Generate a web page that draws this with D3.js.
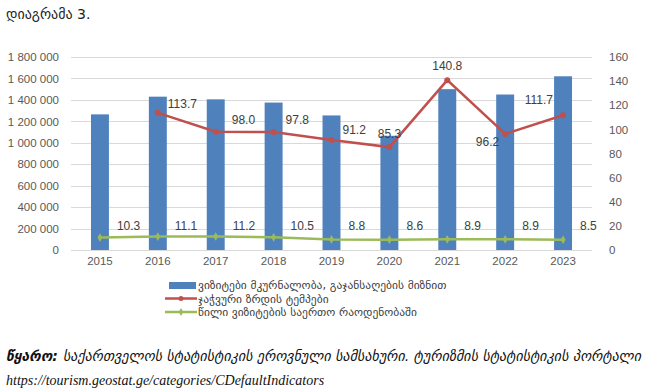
<!DOCTYPE html>
<html><head><meta charset="utf-8">
<script src="https://cdn.jsdelivr.net/npm/d3@7"></script>
<style>
body{margin:0;background:#fff;}
svg text{font-family:"DejaVu Sans","Noto Sans",sans-serif;}
svg text.num{font-family:"Liberation Sans",Arial,sans-serif;}
</style></head>
<body><svg id="c" width="645" height="392"></svg>
<script>
const years = ["2015","2016","2017","2018","2019","2020","2021","2022","2023"];
const visits = [1265000,1430000,1405000,1375000,1255000,1065000,1500000,1450000,1620000];
const growth = [null,113.7,98.0,97.8,91.2,85.3,140.8,96.2,111.7];
const share = [10.3,11.1,11.2,10.5,8.8,8.6,8.9,8.9,8.5];
const leftTicks = [0,200000,400000,600000,800000,1000000,1200000,1400000,1600000,1800000];
const rightTicks = [0,20,40,60,80,100,120,140,160];
const legendLabels = ["ვიზიტები  მკურნალობა, გაჯანსაღების მიზნით","ჯაჭვური ზრდის ტემპები","წილი ვიზიტების საერთო რაოდენობაში"];
const title = "დიაგრამა 3.";
const srcLabel = "წყარო:";
const srcText = "საქართველოს სტატისტიკის ეროვნული სამსახური. ტურიზმის სტატისტიკის პორტალი";
const srcUrl = "https://tourism.geostat.ge/categories/CDefaultIndicators";

// growth label offsets [dx, dy, anchor]
const gOff = [null,[10,-9,"start"],[16,-12,"start"],[12,-12,"start"],[11,-10,"start"],[0,-13,"middle"],[0,-14,"middle"],[-6,8,"end"],[-10,-15,"end"]];

const svg = d3.select("#c");
const L=71, R=592, T=57, B=250;
const x = d3.scaleBand().domain(years).range([L,R]).paddingInner(0.69).paddingOuter(0.345);
const yL = d3.scaleLinear().domain([0,1800000]).range([B,T]);
const yR = d3.scaleLinear().domain([0,160]).range([B,T]);
const cx = d => x(d)+x.bandwidth()/2;
const gray="#595959";

svg.append("text").attr("x",6).attr("y",19).attr("font-size",14).attr("fill","#222").text(title);

// grid
svg.append("g").selectAll("line").data(leftTicks).join("line")
  .attr("x1",L).attr("x2",R).attr("y1",d=>Math.round(yL(d))+0.5).attr("y2",d=>Math.round(yL(d))+0.5)
  .attr("stroke","#d9d9d9").attr("stroke-width",1);

// left axis
const axL = d3.axisLeft(yL).tickValues(leftTicks).tickSize(0).tickPadding(0)
  .tickFormat(d=>d3.format(",")(d).replace(/,/g," "));
const gL = svg.append("g").attr("transform",`translate(59,0)`).call(axL);
gL.select(".domain").remove();
gL.selectAll("text").attr("class","num").attr("font-size",11.5).attr("fill",gray);

const axR = d3.axisRight(yR).tickValues(rightTicks).tickSize(0).tickPadding(0);
const gR = svg.append("g").attr("transform",`translate(609,0)`).call(axR);
gR.select(".domain").remove();
gR.selectAll("text").attr("class","num").attr("font-size",11.5).attr("fill",gray);

const axB = d3.axisBottom(x).tickSize(0).tickPadding(0);
const gB = svg.append("g").attr("transform",`translate(0,257)`).call(axB);
gB.select(".domain").remove();
gB.selectAll("text").attr("class","num").attr("font-size",11.5).attr("fill",gray);

// bars
svg.append("g").selectAll("rect").data(years).join("rect")
  .attr("x",d=>x(d)).attr("width",x.bandwidth())
  .attr("y",(d,i)=>yL(visits[i])).attr("height",(d,i)=>B-yL(visits[i]))
  .attr("fill","#4f81bd");

// growth line
const gData = years.map((y,i)=>({y,v:growth[i],i})).filter(d=>d.v!=null);
svg.append("path").datum(gData).attr("fill","none").attr("stroke","#c0504d").attr("stroke-width",2.5)
  .attr("d",d3.line().x(d=>cx(d.y)).y(d=>yR(d.v)));
svg.append("g").selectAll("circle").data(gData).join("circle")
  .attr("cx",d=>cx(d.y)).attr("cy",d=>yR(d.v)).attr("r",3).attr("fill","#c0504d");
svg.append("g").selectAll("text").data(gData).join("text").attr("class","num")
  .attr("x",d=>cx(d.y)+gOff[d.i][0]).attr("y",d=>yR(d.v)+gOff[d.i][1]).attr("text-anchor",d=>gOff[d.i][2])
  .attr("dy","0.35em").attr("font-size",12).attr("fill","#404040").text(d=>d.v.toFixed(1));

// share line
const sData = years.map((y,i)=>({y,v:share[i],i}));
svg.append("path").datum(sData).attr("fill","none").attr("stroke","#9bbb59").attr("stroke-width",2.5)
  .attr("d",d3.line().x(d=>cx(d.y)).y(d=>yR(d.v)));
svg.append("g").selectAll("path.m").data(sData).join("path")
  .attr("d",d3.symbol(d3.symbolDiamond,22)).attr("transform",d=>`translate(${cx(d.y)},${yR(d.v)})`).attr("fill","#9bbb59");
svg.append("g").selectAll("text").data(sData).join("text").attr("class","num")
  .attr("x",d=>cx(d.y)+17).attr("y",226).attr("dy","0.35em").attr("font-size",12).attr("fill","#404040")
  .text(d=>d.v.toFixed(1));

// legend
const lg = svg.append("g");
lg.append("rect").attr("x",169).attr("y",282).attr("width",27).attr("height",7).attr("fill","#4f81bd");
[["#c0504d",298.5],["#9bbb59",312]].forEach(([c,y],i)=>{
  lg.append("line").attr("x1",165).attr("x2",197).attr("y1",y).attr("y2",y).attr("stroke",c).attr("stroke-width",2.5);
  if(i==0) lg.append("circle").attr("cx",181).attr("cy",y).attr("r",2.5).attr("fill",c);
  else lg.append("path").attr("d",d3.symbol(d3.symbolDiamond,18)).attr("transform",`translate(181,${y})`).attr("fill",c);
});
[285,298.5,312].forEach((y,i)=>{
  lg.append("text").attr("x",198).attr("y",y).attr("dy","0.35em").attr("font-size",11.5).attr("fill","#404040")
    .text(legendLabels[i]);
});

// source
const s = svg.append("text").attr("x",6).attr("y",361).attr("font-size",14).attr("font-style","italic").attr("fill","#111")
  .attr("textLength",635).attr("lengthAdjust","spacing");
s.append("tspan").attr("font-weight","bold").text(srcLabel+" ");
s.append("tspan").text(srcText);
svg.append("text").attr("x",6).attr("y",385).attr("font-size",14).attr("font-style","italic")
  .style("font-family","Liberation Serif").attr("fill","#111").text(srcUrl);
</script></body></html>
